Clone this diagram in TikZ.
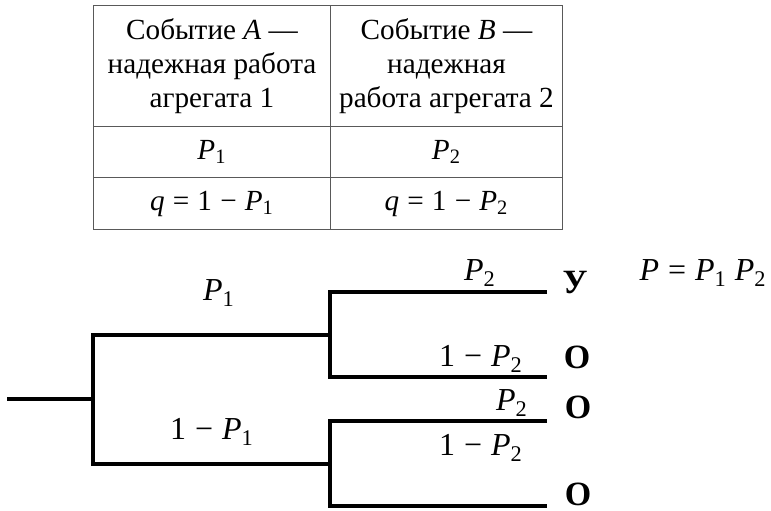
\documentclass[tikz,border=0pt]{standalone}
\usepackage{fontspec}
\setmainfont{Liberation Serif}
\usepackage{tikz}
\usetikzlibrary{positioning}

\newcommand{\Pidx}[1]{\textit{P}\textsubscript{#1}}
\newcommand{\rel}[1]{\hspace{0.28em}#1\hspace{0.28em}}

\begin{document}
\begin{tikzpicture}[
            x=0.5pt, y=-0.5pt,
            cell/.style={draw=black!65, line width=0.5pt, anchor=north west,
                inner sep=0pt, align=center, font=\fontsize{14.6}{17}\selectfont},
            branch/.style={line width=1.7pt, line join=miter},
            lbl/.style={inner sep=0pt, font=\fontsize{16}{18}\selectfont},
            outcome/.style={inner sep=0pt, font=\bfseries\fontsize{17}{19}\selectfont}
        ]
        \useasboundingbox (0,0) rectangle (771,510);

        %================================================
        % Table of events
        %================================================
        \node[cell, minimum width=237*0.5pt, minimum height=121*0.5pt] (hA) at (93,5)
            {Событие \textit{A} —\\надежная работа\\агрегата 1};
        \node[cell, minimum width=232*0.5pt, minimum height=121*0.5pt] (hB) at (330,5)
            {Событие \textit{B} —\\надежная\\работа агрегата 2};
        \node[cell, minimum width=237*0.5pt, minimum height=51*0.5pt] (pA) at (93,126)
            {\Pidx{1}};
        \node[cell, minimum width=232*0.5pt, minimum height=51*0.5pt] (pB) at (330,126)
            {\Pidx{2}};
        \node[cell, minimum width=237*0.5pt, minimum height=52*0.5pt] (qA) at (93,177)
            {\textit{q}\rel{=}1\rel{−}\Pidx{1}};
        \node[cell, minimum width=232*0.5pt, minimum height=52*0.5pt] (qB) at (330,177)
            {\textit{q}\rel{=}1\rel{−}\Pidx{2}};

        %================================================
        % Tree: first unit
        %================================================
        \coordinate (st) at (7,399);
        \coordinate (f0) at (93,399);
        \coordinate (a) at (93,335);
        \coordinate (b) at (93,464);
        \coordinate (a1) at (330,335);
        \coordinate (b1) at (330,464);

        \draw[branch] (st) -- (f0);
        \draw[branch] (a1) -- (a) -- (b) -- (b1);

        \node[lbl] (lP1) at (219,293) {\Pidx{1}};
        \node[lbl] (lQ1) at (212,432) {1\rel{−}\Pidx{1}};

        %================================================
        % Tree: second unit
        %================================================
        \coordinate (a1u) at (330,292);
        \coordinate (a1d) at (330,377);
        \coordinate (b1u) at (330,421);
        \coordinate (b1d) at (330,506);
        \coordinate (e1) at (547,292);
        \coordinate (e2) at (547,377);
        \coordinate (e3) at (547,421);
        \coordinate (e4) at (547,506);

        \draw[branch] (e1) -- (a1u) -- (a1d) -- (e2);
        \draw[branch] (e3) -- (b1u) -- (b1d) -- (e4);

        \node[lbl] (lP2a) at (480,273) {\Pidx{2}};
        \node[lbl] (lQ2a) at (481,359) {1\rel{−}\Pidx{2}};
        \node[lbl] (lP2b) at (512,403) {\Pidx{2}};
        \node[lbl] (lQ2b) at (481,448) {1\rel{−}\Pidx{2}};

        \node[outcome] (oU) at (575,283) {У};
        \node[outcome] (oO1) at (577,357) {О};
        \node[outcome] (oO2) at (578,407) {О};
        \node[outcome] (oO3) at (578,494) {О};

        \node[lbl] (res) at (703,273) {\textit{P}\rel{=}\Pidx{1} \Pidx{2}};

        \end{tikzpicture}
\end{document}
